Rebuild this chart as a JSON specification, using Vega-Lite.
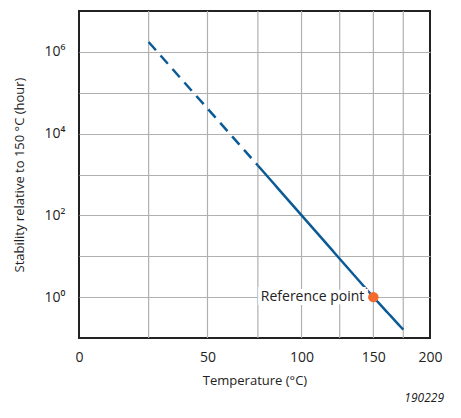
{
  "$schema": "https://vega.github.io/schema/vega-lite/v6.json",
  "width": 351,
  "height": 327,
  "autosize": {"type": "none"},
  "padding": {"left": 79, "top": 11, "right": 31, "bottom": 80},
  "config": {
    "font": "Open Sans",
    "view": {"stroke": "#222222", "strokeWidth": 2},
    "axis": {"labelFont": "Open Sans", "titleFont": "Open Sans", "labelFontSize": 14, "titleFontSize": 13, "titleFontWeight": "normal", "labelColor": "#222", "titleColor": "#222"}
  },
  "title": {"text": "190229", "orient": "bottom", "anchor": "end", "fontSize": 12, "fontStyle": "italic", "fontWeight": "normal", "color": "#222", "offset": 6, "dx": 2},
  "datasets": {
    "curve": [
      {"temp": 25, "hours": 1740000, "part": "extrapolated"},
      {"temp": 75, "hours": 1660, "part": "extrapolated"},
      {"temp": 75, "hours": 1660, "part": "measured"},
      {"temp": 150, "hours": 1, "part": "measured"},
      {"temp": 175, "hours": 0.16, "part": "measured"}
    ],
    "grid": [
      {"temp": 25}, {"temp": 50}, {"temp": 75}, {"temp": 100}, {"temp": 125}, {"temp": 150}, {"temp": 175}
    ],
    "ref": [
      {"temp": 150, "hours": 1, "label": "Reference point"}
    ]
  },
  "layer": [
    {
      "data": {"name": "grid"},
      "transform": [{"calculate": "-1000/(datum.temp + 273.15)", "as": "u"}],
      "mark": {"type": "rule", "color": "#b0b0b0", "strokeWidth": 1.2},
      "encoding": {
        "x": {
          "field": "u", "type": "quantitative",
          "scale": {"domain": [-3.66099, -2.1135], "nice": false, "zero": false},
          "axis": {
            "values": [-3.66099, -3.09454, -2.67989, -2.36323, -2.1135],
            "labelExpr": "round(-1000/datum.value - 273.15)",
            "title": "Temperature (°C)", "grid": false, "domain": false, "ticks": false,
            "labelPadding": 12, "titlePadding": 10, "labelFlush": false
          }
        }
      }
    },
    {
      "data": {"name": "curve"},
      "transform": [{"calculate": "-1000/(datum.temp + 273.15)", "as": "u"}],
      "mark": {"type": "line", "color": "#0b5a95", "strokeWidth": 2.5},
      "encoding": {
        "x": {"field": "u", "type": "quantitative"},
        "y": {
          "field": "hours", "type": "quantitative",
          "scale": {"type": "log", "domain": [0.1, 10000000], "nice": false},
          "axis": {
            "values": [1, 10, 100, 1000, 10000, 100000, 1000000],
            "labelExpr": "datum.value == 1 ? '10⁰' : datum.value == 100 ? '10²' : datum.value == 10000 ? '10⁴' : datum.value == 1000000 ? '10⁶' : ''",
            "title": "Stability relative to 150 °C  (hour)",
            "grid": true, "gridColor": "#b0b0b0", "gridWidth": 1.2, "gridOpacity": 1,
            "domain": false, "ticks": false, "labelPadding": 14, "titlePadding": 18
          }
        },
        "strokeDash": {
          "field": "part", "type": "nominal", "legend": null,
          "scale": {"domain": ["extrapolated", "measured"], "range": [[11, 7], [1, 0]]}
        }
      }
    },
    {
      "data": {"name": "ref"},
      "transform": [{"calculate": "-1000/(datum.temp + 273.15)", "as": "u"}],
      "layer": [
        {
          "mark": {"type": "text", "align": "right", "dx": -9, "fontSize": 14, "stroke": "white", "strokeWidth": 8, "color": "white"},
          "encoding": {"text": {"field": "label"}}
        },
        {
          "mark": {"type": "text", "align": "right", "dx": -9, "fontSize": 14, "color": "#222"},
          "encoding": {"text": {"field": "label"}}
        },
        {
          "mark": {"type": "circle", "size": 110, "color": "#f26a2e", "opacity": 1}
        }
      ],
      "encoding": {
        "x": {"field": "u", "type": "quantitative"},
        "y": {"field": "hours", "type": "quantitative"}
      }
    }
  ]
}
